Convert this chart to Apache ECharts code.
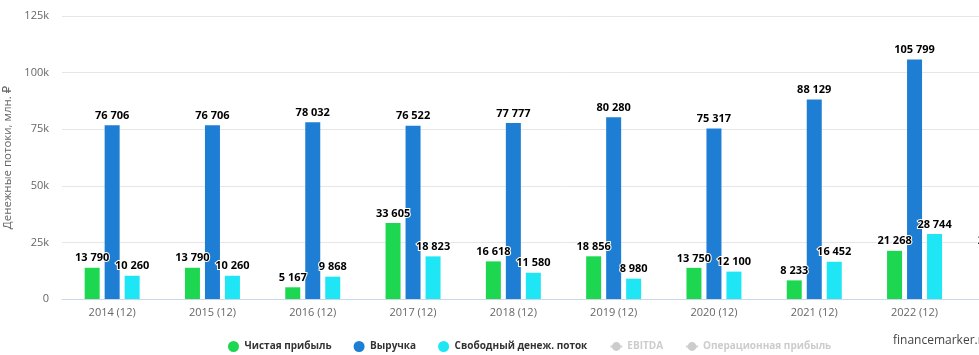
<!DOCTYPE html>
<html>
<head>
<meta charset="utf-8">
<script src="https://cdn.jsdelivr.net/npm/echarts@6/dist/echarts.min.js"></script>
<style>
html,body{margin:0;padding:0;background:#fff;overflow:hidden;width:979px;height:355px;}
#c{width:1080px;height:355px;}
</style>
</head>
<body>
<div id="c"></div>
<script>
const categories = ['2014 (12)','2015 (12)','2016 (12)','2017 (12)','2018 (12)','2019 (12)','2020 (12)','2021 (12)','2022 (12)','2023 (12)'];
const netProfit = [13790, 13790, 5167, 33605, 16618, 18856, 13750, 8233, 21268, 21500];
const revenue = [76706, 76706, 78032, 76522, 77777, 80280, 75317, 88129, 105799, null];
const fcf = [10260, 10260, 9868, 18823, 11580, 8980, 12100, 16452, 28744, null];
const yTicks = ['0','25k','50k','75k','100k','125k'];

const FONT = '"Open Sans", "DejaVu Sans", sans-serif';
function fmt(v){ return String(Math.round(v)).replace(/\B(?=(\d{3})+(?!\d))/g,' '); }
const labelCfg = {
  show: true, position: 'top', distance: 4,
  formatter: p => p.value == null ? '' : fmt(p.value),
  fontFamily: FONT, fontSize: 11, fontWeight: 'bold', color: '#000',
  textBorderColor: '#fff', textBorderWidth: 2
};
function bar(name, data, color){
  return { name, type: 'bar', data, barWidth: 15, barGap: '33.3%',
    itemStyle: { color }, label: labelCfg, z: 2, emphasis: { disabled: true } };
}
const chart = echarts.init(document.getElementById('c'), null, { renderer: 'canvas' });
chart.setOption({
  animation: false,
  backgroundColor: '#fff',
  textStyle: { fontFamily: FONT },
  grid: { left: 62, top: 16, width: 1003, height: 283, containLabel: false, outerBoundsMode: 'none' },
  legend: {
    left: 223, top: 336, itemGap: 22, itemWidth: 12, itemHeight: 11,
    textStyle: { fontFamily: FONT, fontSize: 10, fontWeight: 'bold', color: '#333' },
    inactiveColor: '#cccccc',
    data: [
      { name: 'Чистая прибыль', icon: 'circle' },
      { name: 'Выручка', icon: 'circle' },
      { name: 'Свободный денеж. поток', icon: 'circle' },
      { name: 'EBITDA' },
      { name: 'Операционная прибыль' }
    ],
    selected: { 'EBITDA': false, 'Операционная прибыль': false }
  },
  xAxis: {
    type: 'category', data: categories,
    axisLine: { lineStyle: { color: '#ccd6eb' } },
    axisTick: { show: false },
    axisLabel: { color: '#666', fontSize: 11, fontFamily: FONT, margin: 8 }
  },
  yAxis: {
    type: 'value', min: 0, max: 125000, interval: 25000,
    name: 'Денежные потоки, млн. ₽', nameLocation: 'middle', nameGap: 39, nameRotate: 90,
    nameTextStyle: { color: '#666', fontSize: 11.5, fontFamily: FONT },
    axisLine: { show: false }, axisTick: { show: false },
    splitLine: { lineStyle: { color: '#e6e6e6' } },
    axisLabel: { color: '#666', fontSize: 11, fontFamily: FONT, margin: 13,
      formatter: v => yTicks[Math.round(v / 25000)] }
  },
  series: [
    bar('Чистая прибыль', netProfit, '#1ed750'),
    bar('Выручка', revenue, '#1e7ed4'),
    bar('Свободный денеж. поток', fcf, '#1ee6f5'),
    { name: 'EBITDA', type: 'line', data: [], symbol: 'circle', itemStyle: { color: '#999' } },
    { name: 'Операционная прибыль', type: 'line', data: [], symbol: 'circle', itemStyle: { color: '#999' } }
  ],
  graphic: [{
    type: 'text', left: 893, top: 335,
    style: { text: 'financemarker.ru', fill: '#444', font: '12px ' + FONT }
  }]
});
</script>
</body>
</html>
